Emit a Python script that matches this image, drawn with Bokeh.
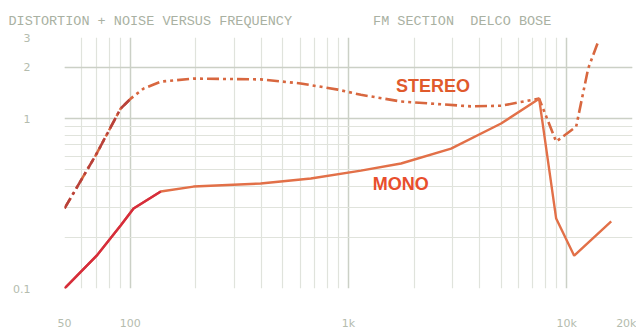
from bokeh.plotting import figure
from bokeh.models import Label, FixedTicker
from bokeh.embed import file_html
from bokeh.resources import INLINE

# Data
stereo_freq = [50, 69.4, 90.4, 100.5, 115, 138, 195, 396, 604, 894, 1140, 1740, 3640, 5000, 7470, 8940, 11040, 12530, 13930]
stereo_thd  = [0.296, 0.606, 1.145, 1.31, 1.50, 1.65, 1.72, 1.70, 1.61, 1.48, 1.38, 1.26, 1.18, 1.19, 1.31, 0.732, 0.897, 1.97, 2.84]

mono_freq = [50, 70.2, 90.4, 103.6, 138, 195, 396, 672, 1140, 1740, 2950, 5000, 7470, 8940, 10810, 15980]
mono_thd  = [0.1, 0.156, 0.235, 0.296, 0.372, 0.398, 0.415, 0.444, 0.494, 0.544, 0.666, 0.935, 1.31, 0.258, 0.156, 0.248]

x_ticks = [50, 100, 1000, 10000, 20000]
x_tick_labels = ["50", "100", "1k", "10k", "20k"]
y_ticks = [0.1, 1, 2, 3]
y_tick_labels = ["0.1", "1", "2", "3"]

title_left = "DISTORTION + NOISE VERSUS FREQUENCY"
title_right = "FM SECTION  DELCO BOSE"

p = figure(width=636, height=332, x_axis_type="log", y_axis_type="log",
           x_range=(50, 20000), y_range=(0.1, 3),
           output_backend="svg", toolbar_location=None,
           min_border_left=64, min_border_right=4, min_border_top=37, min_border_bottom=42)
p.outline_line_color = None
p.background_fill_color = "white"
p.border_fill_color = "white"

# Both header texts on one title line, separated by non-breaking spaces
p.title.text = title_left + "\u00a0" * 10 + title_right.replace(" ", "\u00a0")
p.title.align = "left"
p.title.offset = -56
p.title.standoff = 18
p.title.text_font = "Liberation Mono"
p.title.text_font_style = "normal"
p.title.text_font_size = "13.5px"
p.title.text_color = "#a9b1a2"

x_minor = [m * d for d in (10, 100, 1000) for m in range(2, 10) if 50 < m * d < 20000]
y_minor = [m * d for d in (0.1, 1) for m in range(2, 10) if m * d <= 3]
p.xaxis.ticker = FixedTicker(ticks=x_ticks, minor_ticks=x_minor)
p.yaxis.ticker = FixedTicker(ticks=y_ticks, minor_ticks=y_minor)
p.xaxis.major_label_overrides = {t: l for t, l in zip(x_ticks, x_tick_labels)}
p.yaxis.major_label_overrides = {t: l for t, l in zip(y_ticks, y_tick_labels)}

for ax in (p.xaxis, p.yaxis):
    ax.axis_line_color = None
    ax.major_tick_line_color = None
    ax.minor_tick_line_color = None
    ax.major_label_text_color = "#b4bcae"
    ax.major_label_text_font = "DejaVu Sans"
    ax.major_label_text_font_size = "11px"
p.xaxis.major_label_standoff = 22
p.yaxis.major_label_standoff = 28

for g in (p.xgrid, p.ygrid):
    g.grid_line_color = "#cbd0c6"
    g.grid_line_width = 1.5
    g.minor_grid_line_color = "#e0e3dc"
    g.minor_grid_line_width = 1.2

# Stereo: dash-dot line
p.line(stereo_freq, stereo_thd, line_color="#d8673f", line_width=2.6, line_dash="12 4 3 4 3 4")
p.line(stereo_freq[:4], stereo_thd[:4], line_color="#b8413a", line_width=2.6, line_dash="12 4 3 4")

# Mono: solid line
p.line(mono_freq, mono_thd, line_color="#e27048", line_width=2.4)
p.line(mono_freq[:5], mono_thd[:5], line_color="#d62c3c", line_width=2.4)

p.add_layout(Label(x=1650, y=1.36, text="STEREO", text_color="#e05a2c",
                   text_font="Liberation Sans", text_font_style="bold", text_font_size="18px"))
p.add_layout(Label(x=1293, y=0.36, text="MONO", text_color="#e84e2c",
                   text_font="Liberation Sans", text_font_style="bold", text_font_size="18px"))

open("out.html", "w").write(file_html(p, INLINE))
